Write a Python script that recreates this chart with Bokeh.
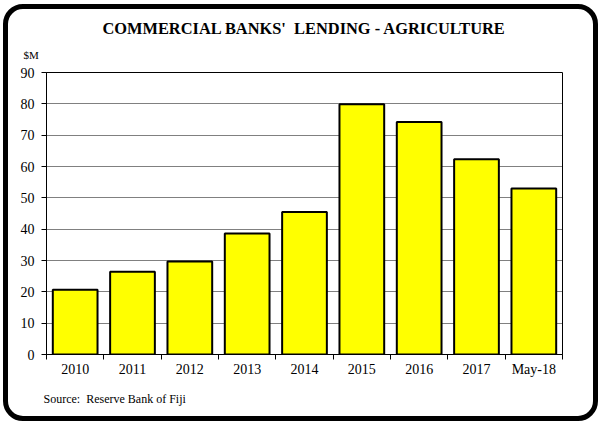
from bokeh.plotting import figure
from bokeh.models import FixedTicker, Title, Range1d, ColumnDataSource, InlineStyleSheet
from bokeh.embed import file_html
from bokeh.resources import INLINE

categories = ["2010", "2011", "2012", "2013", "2014", "2015", "2016", "2017", "May-18"]
values = [20.7, 26.4, 29.7, 38.6, 45.5, 79.9, 74.2, 62.3, 53.0]
y_ticks = [0, 10, 20, 30, 40, 50, 60, 70, 80, 90]
title_text = "COMMERCIAL BANKS' \u00a0LENDING - AGRICULTURE"
unit_text = "$M"
source_text = "Source: \u00a0Reserve Bank of Fiji"

FONT = "Liberation Serif"

x_pos = [i + 0.5 for i in range(len(categories))]
src = ColumnDataSource(dict(x=x_pos, top=values, cat=categories))

p = figure(width=599, height=422, x_range=Range1d(0, len(categories)), y_range=Range1d(0, 90),
           output_backend="svg", toolbar_location=None, title=None,
           min_border_left=46, min_border_right=37, min_border_top=72, min_border_bottom=68)

# rounded outer frame of the chart
p.stylesheets = [InlineStyleSheet(css="""
:host::after {
  content: "";
  position: absolute;
  left: 3px; top: 4px;
  width: 595px; height: 417px;
  box-sizing: border-box;
  border: 5px solid black;
  border-radius: 20px;
  pointer-events: none;
  z-index: 10;
}
""")]

p.vbar(x="x", top="top", width=0.78, bottom=0, source=src,
       fill_color="#FFFF00", line_color="black", line_width=2)

# titles
p.add_layout(Title(text=unit_text, align="left", offset=-23, standoff=20, vertical_align="top",
                   text_color="black", text_font=FONT, text_font_size="11px",
                   text_font_style="normal"), "above")
p.add_layout(Title(text=title_text, align="center", standoff=1, text_color="black",
                   text_font=FONT, text_font_size="16.4px", text_font_style="bold"), "above")
p.add_layout(Title(text=source_text, align="left", offset=-3, standoff=24, vertical_align="top",
                   text_color="black", text_font=FONT, text_font_size="12px",
                   text_font_style="normal"), "below")

# frame / grid
p.outline_line_color = "black"
p.outline_line_width = 1
p.xgrid.visible = False
p.ygrid.ticker = FixedTicker(ticks=y_ticks)
p.ygrid.grid_line_color = "black"
p.ygrid.grid_line_dash = "1 1"
p.ygrid.grid_line_width = 1
p.background_fill_color = "white"
p.border_fill_color = "white"

# y axis
p.yaxis.ticker = FixedTicker(ticks=y_ticks)
p.yaxis.major_tick_in = 0
p.yaxis.major_tick_out = 5
p.yaxis.minor_tick_line_color = None
p.yaxis.major_label_standoff = 7
p.yaxis.major_label_text_font = FONT
p.yaxis.major_label_text_font_size = "14px"
p.yaxis.major_label_text_color = "black"
p.yaxis.axis_line_color = "black"
p.yaxis.major_tick_line_color = "black"

# x axis: labels at category centres, ticks at boundaries
p.xaxis.ticker = FixedTicker(ticks=x_pos, minor_ticks=list(range(len(categories) + 1)))
p.xaxis.major_label_overrides = {x: c for x, c in zip(x_pos, categories)}
p.xaxis.major_tick_in = 0
p.xaxis.major_tick_out = 0
p.xaxis.minor_tick_in = 0
p.xaxis.minor_tick_out = 5
p.xaxis.minor_tick_line_color = "black"
p.xaxis.major_label_standoff = 2
p.xaxis.major_label_text_font = FONT
p.xaxis.major_label_text_font_size = "14px"
p.xaxis.major_label_text_color = "black"
p.xaxis.axis_line_color = "black"

open("out.html", "w").write(file_html(p, INLINE))
